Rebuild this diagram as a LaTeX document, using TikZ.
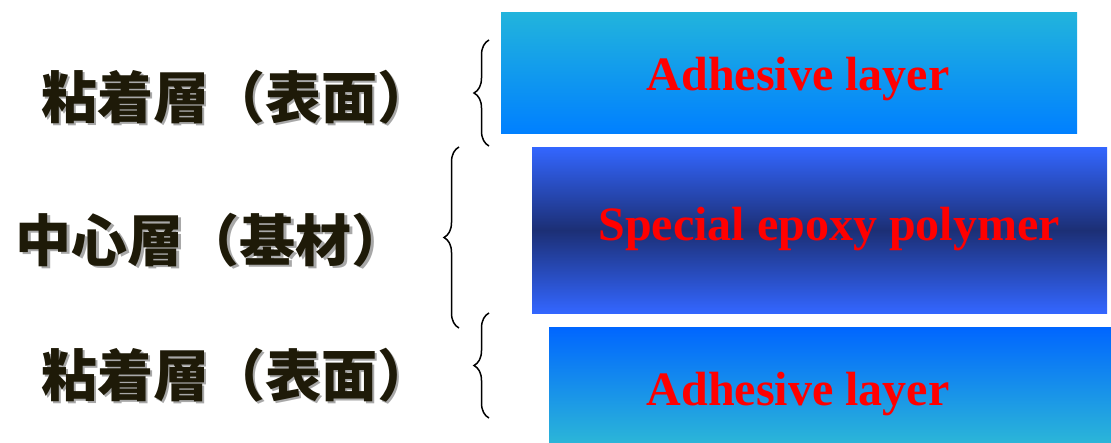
\documentclass[tikz,border=0pt]{standalone}
\usepackage{fontspec}
\setmainfont{Liberation Serif}
\newfontfamily\cjk{Noto Sans CJK JP}[BoldFont={Noto Sans CJK JP Black}]
\usetikzlibrary{decorations.pathreplacing}
\definecolor{capc}{HTML}{1E1A08}
\definecolor{shad}{HTML}{A8A8A8}
\definecolor{cyanT}{HTML}{22B4DC}
\definecolor{blueB}{HTML}{0080FF}
\definecolor{midblue}{HTML}{3366FF}
\definecolor{navy}{HTML}{1C2F75}
\definecolor{blueT}{HTML}{0066FF}
\definecolor{cyanB}{HTML}{2BB5D8}
\tikzset{
  layertext/.style={text=red, font=\bfseries\fontsize{48}{50}\selectfont, inner sep=0pt, anchor=base},
  cjklabel/.style={text=capc, font=\cjk\bfseries\fontsize{56}{58}\selectfont, inner sep=0pt},
  cjkshadow/.style={text=shad, font=\cjk\bfseries\fontsize{56}{58}\selectfont, inner sep=0pt},
  bracket/.style={decorate, decoration={brace, amplitude=15pt}, line width=1.5pt, black},
}
\begin{document}
\begin{tikzpicture}[x=1pt,y=-1pt]
\useasboundingbox (0,0) rectangle (1111,442);
% layers
\shade[top color=cyanT, bottom color=blueB] (501,12) rectangle (1077,133);
\shade[top color=midblue, bottom color=midblue, middle color=navy] (532,147) rectangle (1107,313);
\shade[top color=blueT, bottom color=cyanB] (549,327) rectangle (1111,442);
\node[layertext] (t1) at (798,90) {Adhesive layer};
\node[layertext] (t2) at (829,240) {Special epoxy polymer};
\node[layertext] (t3) at (798,405) {Adhesive layer};
% labels
\node[cjkshadow] at (239,99) {粘着層（表面）};
\node[cjklabel] (l1) at (237,97) {粘着層（表面）};
\node[cjkshadow] at (214,242) {中心層（基材）};
\node[cjklabel] (l2) at (212,240) {中心層（基材）};
\node[cjkshadow] at (239,377) {粘着層（表面）};
\node[cjklabel] (l3) at (237,375) {粘着層（表面）};
% braces
\coordinate (b1s) at (489,146);
\coordinate (b1e) at (489,40);
\coordinate (b2s) at (459,328);
\coordinate (b2e) at (459,147);
\coordinate (b3s) at (489,418);
\coordinate (b3e) at (489,313);
\draw[bracket] (b1s) -- (b1e);
\draw[bracket] (b2s) -- (b2e);
\draw[bracket] (b3s) -- (b3e);
\end{tikzpicture}
\end{document}
